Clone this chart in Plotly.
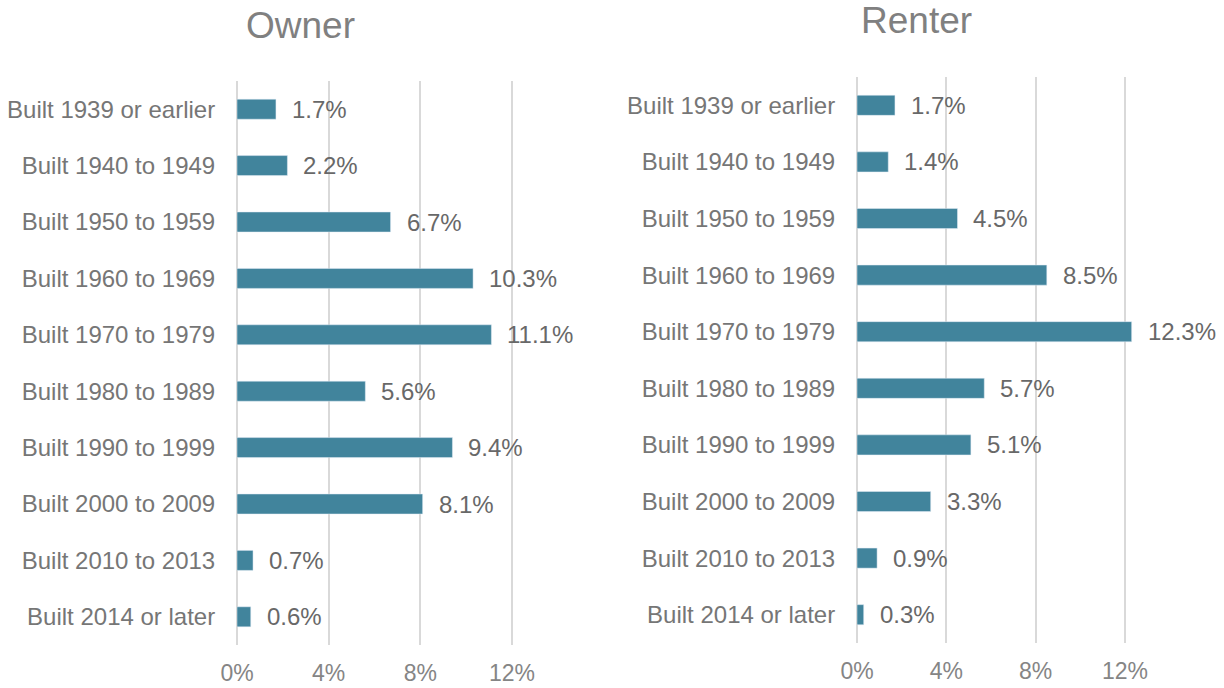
import plotly.graph_objects as go

categories = ["Built 1939 or earlier", "Built 1940 to 1949", "Built 1950 to 1959",
              "Built 1960 to 1969", "Built 1970 to 1979", "Built 1980 to 1989",
              "Built 1990 to 1999", "Built 2000 to 2009", "Built 2010 to 2013",
              "Built 2014 or later"]
owner = [1.7, 2.2, 6.7, 10.3, 11.1, 5.6, 9.4, 8.1, 0.7, 0.6]
renter = [1.7, 1.4, 4.5, 8.5, 12.3, 5.7, 5.1, 3.3, 0.9, 0.3]
tick_vals = [0, 4, 8, 12]
tick_text = ["0%", "4%", "8%", "12%"]
titles = ["Owner", "Renter"]

FONT = "Liberation Sans, Arial, sans-serif"
BAR = "#41849C"
GRID = "#D9D9D9"
W, H = 1224, 688

fig = go.Figure()
fig.add_trace(go.Bar(x=owner, y=categories, orientation="h", width=0.355,
                     marker=dict(color=BAR), xaxis="x", yaxis="y",
                     hoverinfo="skip", showlegend=False))
fig.add_trace(go.Bar(x=renter, y=categories, orientation="h", width=0.355,
                     marker=dict(color=BAR), xaxis="x2", yaxis="y2",
                     hoverinfo="skip", showlegend=False))

annotations = []
for vals, xr, yr in [(owner, "x", "y"), (renter, "x2", "y2")]:
    for c, v in zip(categories, vals):
        annotations.append(dict(x=v, y=c, xref=xr, yref=yr, text=f"{v:.1f}%",
                                showarrow=False, xanchor="left", xshift=14,
                                font=dict(family=FONT, size=24, color="#686868")))

annotations.append(dict(x=300 / W, y=1 - 26 / H, xref="paper", yref="paper",
                        text=titles[0], showarrow=False, xanchor="center", yanchor="middle",
                        font=dict(family=FONT, size=37, color="#808080")))
annotations.append(dict(x=916 / W, y=1 - 21 / H, xref="paper", yref="paper",
                        text=titles[1], showarrow=False, xanchor="center", yanchor="middle",
                        font=dict(family=FONT, size=37, color="#808080")))

def xaxis(domain, anchor):
    return dict(domain=domain, anchor=anchor, range=[0, 14], tickvals=tick_vals,
                ticktext=tick_text, showgrid=True, gridcolor=GRID, gridwidth=1.5,
                zeroline=True, zerolinecolor=GRID, zerolinewidth=1.5,
                showline=False, ticks="outside", ticklen=7, tickcolor="rgba(0,0,0,0)",
                automargin=False,
                tickfont=dict(family=FONT, size=23, color="#858585"), fixedrange=True)

def yaxis(domain, anchor):
    return dict(domain=domain, anchor=anchor, categoryorder="array",
                categoryarray=categories, autorange="reversed", showgrid=False,
                zeroline=False, showline=False, ticks="outside", ticklen=16,
                tickcolor="rgba(0,0,0,0)", automargin=False,
                tickfont=dict(family=FONT, size=24, color="#767676"), fixedrange=True)

fig.update_layout(
    width=W, height=H,
    margin=dict(l=0, r=0, t=0, b=0, autoexpand=False),
    paper_bgcolor="white", plot_bgcolor="white",
    xaxis=xaxis([237 / W, (237 + 14 * 22.92) / W], "y"),
    yaxis=yaxis([1 - 645 / H, 1 - 81 / H], "x"),
    xaxis2=xaxis([857 / W, (857 + 14 * 22.33) / W], "y2"),
    yaxis2=yaxis([1 - 643 / H, 1 - 77 / H], "x2"),
    annotations=annotations,
    bargap=0.6,
)

fig.write_html("out.html", config={"displayModeBar": False},
               post_script="document.body.style.margin='0';document.body.style.overflow='hidden';")
